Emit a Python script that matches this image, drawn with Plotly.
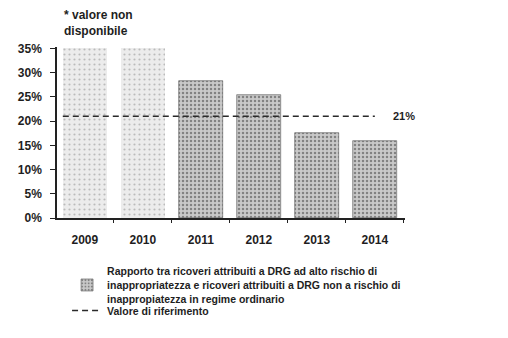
import plotly.graph_objects as go

years = ["2009", "2010", "2011", "2012", "2013", "2014"]
values = [None, None, 28.3, 25.3, 17.6, 15.8]
unavailable = [35, 35, None, None, None, None]
ref_value = 21
y_ticks = [0, 5, 10, 15, 20, 25, 30, 35]
y_tick_labels = ["0%", "5%", "10%", "15%", "20%", "25%", "30%", "35%"]

series_name = ("Rapporto tra ricoveri attribuiti a DRG ad alto rischio di<br>"
               "inappropriatezza e ricoveri attribuiti a DRG non a rischio di<br>"
               "inappropiatezza in regime ordinario")
ref_name = "Valore di riferimento"
note = "* valore non<br>disponibile"

xs = list(range(len(years)))
bw = 0.76
font_fam = "Liberation Sans, Arial, sans-serif"
ink = "#1e1e1e"
x_range = [-0.48, 5.52]
boundaries = [i + 0.5 for i in xs]

fig = go.Figure()
fig.add_trace(go.Bar(
    x=xs, y=unavailable, width=bw, showlegend=False,
    marker=dict(color="#ececec", line=dict(width=0),
                pattern=dict(shape=".", fgcolor="#8a8a8a", size=5, solidity=0.15)),
    hoverinfo="skip"))
fig.add_trace(go.Bar(
    x=xs, y=values, width=bw, name=series_name, legend="legend",
    marker=dict(color="#c9c9c9", line=dict(color="#555", width=0.6),
                pattern=dict(shape=".", fgcolor="#3a3a3a", size=4, solidity=0.3))))
fig.add_trace(go.Scatter(
    x=[xs[0] - bw / 2, xs[-1]], y=[ref_value, ref_value], mode="lines",
    name=ref_name, legend="legend2",
    line=dict(color="#2a2a2a", width=1.6, dash="6px,4px")))
# invisible helper trace so the boundary-tick axis is drawn
fig.add_trace(go.Scatter(x=boundaries, y=[0] * len(boundaries), xaxis="x2",
                         mode="markers", marker=dict(opacity=0), showlegend=False,
                         hoverinfo="skip"))

fig.add_annotation(x=xs[-1] + 0.27, y=ref_value, text=f"{ref_value}%",
                   showarrow=False, xanchor="left", yanchor="middle",
                   font=dict(size=11, color=ink, family=font_fam, weight="bold"))
fig.add_annotation(x=xs[0] - 0.4, y=1.0, xref="x", yref="paper", yanchor="bottom",
                   xanchor="left", text=note, showarrow=False, align="left",
                   yshift=7,
                   font=dict(size=12, color=ink, family=font_fam, weight="bold"))

legend_font = dict(size=10.5, family=font_fam, color=ink, weight="bold")
fig.update_layout(
    width=508, height=338,
    margin=dict(l=57, r=103, t=47, b=120, autoexpand=False),
    paper_bgcolor="white", plot_bgcolor="white",
    barmode="overlay", bargap=0,
    font=dict(family=font_fam, color=ink, size=11, weight="bold"),
    showlegend=True,
    legend=dict(xref="container", yref="container", x=0.132, y=1 - 258 / 338,
                xanchor="left", yanchor="top", font=legend_font,
                itemwidth=30, bgcolor="rgba(0,0,0,0)"),
    legend2=dict(xref="container", yref="container", x=0.132, y=1 - 296 / 338,
                 xanchor="left", yanchor="top", font=legend_font,
                 itemwidth=30, bgcolor="rgba(0,0,0,0)"),
    xaxis=dict(range=x_range, tickvals=xs, ticktext=years,
               showline=True, linecolor="#222", linewidth=1.5, showgrid=False,
               ticks="", zeroline=False, ticklabelstandoff=10, automargin=False,
               tickfont=dict(size=12, weight="bold")),
    xaxis2=dict(range=x_range, overlaying="x", side="bottom", tickvals=boundaries,
                ticktext=[""] * len(boundaries), ticks="outside", ticklen=4,
                tickcolor="#222", tickwidth=1.2, showline=False, showgrid=False,
                zeroline=False, automargin=False),
    yaxis=dict(range=[0, 35.3], tickvals=y_ticks, ticktext=y_tick_labels,
               showline=True, linecolor="#222", linewidth=1.5, showgrid=False,
               ticks="outside", ticklen=5, tickcolor="#222", zeroline=False,
               ticklabelstandoff=6, automargin=False,
               tickfont=dict(size=12, weight="bold")),
)

fig.write_html("out.html")
